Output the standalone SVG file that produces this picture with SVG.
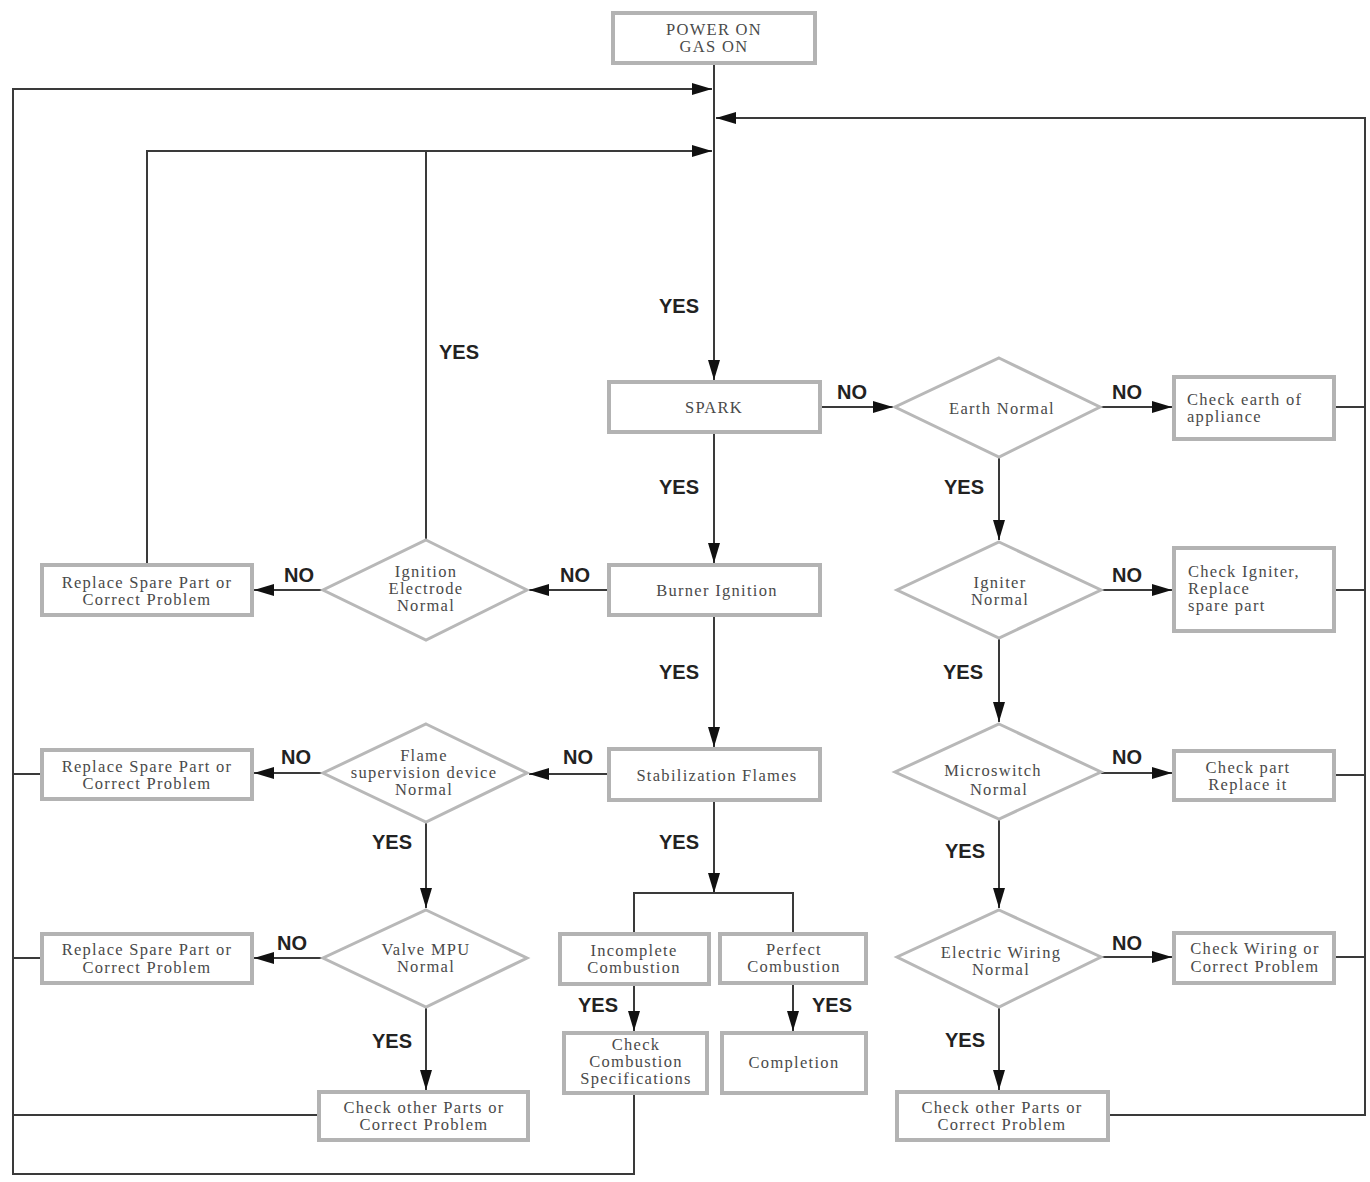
<svg xmlns="http://www.w3.org/2000/svg" width="1370" height="1182" viewBox="0 0 1370 1182">
<style>
.box{fill:#fff;stroke:#b3b3b3;stroke-width:4}
.dia{fill:#fff;stroke:#b8b8b8;stroke-width:3}
.t{font-family:"Liberation Serif","Times New Roman",serif;font-size:16.5px;letter-spacing:1.3px;fill:#4a4a4a;text-anchor:middle;dominant-baseline:central}
.tl{text-anchor:start}
.lb{font-family:"Liberation Sans",Arial,sans-serif;font-size:20px;font-weight:bold;fill:#222;text-anchor:middle;dominant-baseline:central}
.c{fill:none;stroke:#3a3a3a;stroke-width:2}
.a{marker-end:url(#ah)}
</style>
<defs>
<marker id="ah" markerUnits="userSpaceOnUse" markerWidth="20" markerHeight="12" refX="20" refY="6" orient="auto">
<path d="M0,0 L20,6 L0,12 Z" fill="#111"/>
</marker>
</defs>
<rect width="1370" height="1182" fill="#fff"/>

<g id="connectors">
<line class="c a" x1="714" y1="63" x2="714" y2="380"/>
<polyline class="c a" points="634,1093 634,1174 13,1174 13,89 712,89"/>
<polyline class="c a" points="1108,1115 1365,1115 1365,118 716,118"/>
<polyline class="c a" points="147,565 147,151 712,151"/>
<line class="c" x1="426" y1="151" x2="426" y2="540"/>
<line class="c a" x1="820" y1="407" x2="893" y2="407"/>
<line class="c a" x1="1100" y1="407" x2="1172" y2="407"/>
<line class="c" x1="1334" y1="407" x2="1365" y2="407"/>
<line class="c a" x1="714" y1="432" x2="714" y2="563"/>
<line class="c a" x1="609" y1="590" x2="529" y2="590"/>
<line class="c a" x1="323" y1="590" x2="254" y2="590"/>
<line class="c a" x1="999" y1="457" x2="999" y2="540"/>
<line class="c a" x1="1101" y1="590" x2="1172" y2="590"/>
<line class="c" x1="1334" y1="590" x2="1365" y2="590"/>
<line class="c a" x1="714" y1="615" x2="714" y2="747"/>
<line class="c a" x1="609" y1="774" x2="529" y2="774"/>
<line class="c a" x1="323" y1="773" x2="254" y2="773"/>
<line class="c" x1="42" y1="774" x2="13" y2="774"/>
<line class="c a" x1="426" y1="822" x2="426" y2="908"/>
<line class="c a" x1="323" y1="958" x2="254" y2="958"/>
<line class="c" x1="42" y1="958" x2="13" y2="958"/>
<line class="c a" x1="426" y1="1007" x2="426" y2="1090"/>
<line class="c" x1="319" y1="1115" x2="13" y2="1115"/>
<line class="c a" x1="714" y1="800" x2="714" y2="893"/>
<polyline class="c" points="634,934 634,893 793,893 793,934"/>
<line class="c a" x1="634" y1="984" x2="634" y2="1031"/>
<line class="c a" x1="793" y1="983" x2="793" y2="1031"/>
<line class="c a" x1="999" y1="638" x2="999" y2="722"/>
<line class="c a" x1="1101" y1="773" x2="1172" y2="773"/>
<line class="c" x1="1334" y1="775" x2="1365" y2="775"/>
<line class="c a" x1="999" y1="819" x2="999" y2="908"/>
<line class="c a" x1="1101" y1="957" x2="1172" y2="957"/>
<line class="c" x1="1334" y1="957" x2="1365" y2="957"/>
<line class="c a" x1="999" y1="1007" x2="999" y2="1090"/>
</g>

<g id="labels">
<text class="lb" x="679" y="306">YES</text>
<text class="lb" x="459" y="352">YES</text>
<text class="lb" x="852" y="392">NO</text>
<text class="lb" x="1127" y="392">NO</text>
<text class="lb" x="679" y="487">YES</text>
<text class="lb" x="964" y="487">YES</text>
<text class="lb" x="575" y="575">NO</text>
<text class="lb" x="299" y="575">NO</text>
<text class="lb" x="1127" y="575">NO</text>
<text class="lb" x="679" y="672">YES</text>
<text class="lb" x="963" y="672">YES</text>
<text class="lb" x="578" y="757">NO</text>
<text class="lb" x="296" y="757">NO</text>
<text class="lb" x="1127" y="757">NO</text>
<text class="lb" x="392" y="842">YES</text>
<text class="lb" x="679" y="842">YES</text>
<text class="lb" x="965" y="851">YES</text>
<text class="lb" x="292" y="943">NO</text>
<text class="lb" x="1127" y="943">NO</text>
<text class="lb" x="598" y="1005">YES</text>
<text class="lb" x="832" y="1005">YES</text>
<text class="lb" x="392" y="1041">YES</text>
<text class="lb" x="965" y="1040">YES</text>
</g>

<g id="power">
<rect class="box" x="613" y="13" width="202" height="50"/>
<text class="t" x="714" y="29">POWER ON</text>
<text class="t" x="714" y="46">GAS ON</text>
</g>
<g id="spark">
<rect class="box" x="609" y="382" width="211" height="50"/>
<text class="t" x="714" y="407">SPARK</text>
</g>
<g id="earth">
<polygon class="dia" points="999,358 1100,407 999,457 895,407"/>
<text class="t" x="1002" y="408">Earth Normal</text>
</g>
<g id="checkearth">
<rect class="box" x="1174" y="377" width="160" height="62"/>
<text class="t tl" x="1187" y="399">Check earth of</text>
<text class="t tl" x="1187" y="416">appliance</text>
</g>
<g id="burner">
<rect class="box" x="609" y="565" width="211" height="50"/>
<text class="t" x="717" y="590">Burner Ignition</text>
</g>
<g id="ignition">
<polygon class="dia" points="426,540 527,590 426,640 323,590"/>
<text class="t" x="426" y="571">Ignition</text>
<text class="t" x="426" y="588">Electrode</text>
<text class="t" x="426" y="605">Normal</text>
</g>
<g id="replace1">
<rect class="box" x="42" y="565" width="210" height="50"/>
<text class="t" x="147" y="582">Replace Spare Part or</text>
<text class="t" x="147" y="599">Correct Problem</text>
</g>
<g id="igniter">
<polygon class="dia" points="999,542 1101,590 999,638 897,590"/>
<text class="t" x="1000" y="582">Igniter</text>
<text class="t" x="1000" y="599">Normal</text>
</g>
<g id="checkigniter">
<rect class="box" x="1174" y="548" width="160" height="83"/>
<text class="t tl" x="1188" y="571">Check Igniter,</text>
<text class="t tl" x="1188" y="588">Replace</text>
<text class="t tl" x="1188" y="605">spare part</text>
</g>
<g id="stabilization">
<rect class="box" x="609" y="749" width="211" height="51"/>
<text class="t" x="717" y="775">Stabilization Flames</text>
</g>
<g id="flame">
<polygon class="dia" points="426,724 527,773 426,822 323,773"/>
<text class="t" x="424" y="755">Flame</text>
<text class="t" x="424" y="772">supervision device</text>
<text class="t" x="424" y="789">Normal</text>
</g>
<g id="replace2">
<rect class="box" x="42" y="750" width="210" height="49"/>
<text class="t" x="147" y="766">Replace Spare Part or</text>
<text class="t" x="147" y="783">Correct Problem</text>
</g>
<g id="micro">
<polygon class="dia" points="999,724 1101,772 999,819 895,772"/>
<text class="t" x="993" y="770" letter-spacing="2">Microswitch</text>
<text class="t" x="999" y="789">Normal</text>
</g>
<g id="checkpart">
<rect class="box" x="1174" y="751" width="160" height="49"/>
<text class="t" x="1248" y="767">Check part</text>
<text class="t" x="1248" y="784">Replace it</text>
</g>
<g id="valve">
<polygon class="dia" points="426,910 527,958 426,1007 323,958"/>
<text class="t" x="426" y="949">Valve MPU</text>
<text class="t" x="426" y="966">Normal</text>
</g>
<g id="replace3">
<rect class="box" x="42" y="934" width="210" height="49"/>
<text class="t" x="147" y="949">Replace Spare Part or</text>
<text class="t" x="147" y="967">Correct Problem</text>
</g>
<g id="incomplete">
<rect class="box" x="560" y="934" width="149" height="50"/>
<text class="t" x="634" y="950">Incomplete</text>
<text class="t" x="634" y="967">Combustion</text>
</g>
<g id="perfect">
<rect class="box" x="720" y="934" width="146" height="49"/>
<text class="t" x="794" y="949">Perfect</text>
<text class="t" x="794" y="966">Combustion</text>
</g>
<g id="wiring">
<polygon class="dia" points="999,910 1101,957 999,1007 897,957"/>
<text class="t" x="1001" y="952">Electric Wiring</text>
<text class="t" x="1001" y="969">Normal</text>
</g>
<g id="checkwiring">
<rect class="box" x="1174" y="933" width="160" height="50"/>
<text class="t" x="1255" y="948">Check Wiring or</text>
<text class="t" x="1255" y="966">Correct Problem</text>
</g>
<g id="checkspec">
<rect class="box" x="564" y="1033" width="143" height="60"/>
<text class="t" x="636" y="1044">Check</text>
<text class="t" x="636" y="1061">Combustion</text>
<text class="t" x="636" y="1078">Specifications</text>
</g>
<g id="completion">
<rect class="box" x="722" y="1033" width="144" height="60"/>
<text class="t" x="794" y="1062">Completion</text>
</g>
<g id="otherleft">
<rect class="box" x="319" y="1092" width="209" height="48"/>
<text class="t" x="424" y="1107">Check other Parts or</text>
<text class="t" x="424" y="1124">Correct Problem</text>
</g>
<g id="otherright">
<rect class="box" x="897" y="1092" width="211" height="48"/>
<text class="t" x="1002" y="1107">Check other Parts or</text>
<text class="t" x="1002" y="1124">Correct Problem</text>
</g>
</svg>
